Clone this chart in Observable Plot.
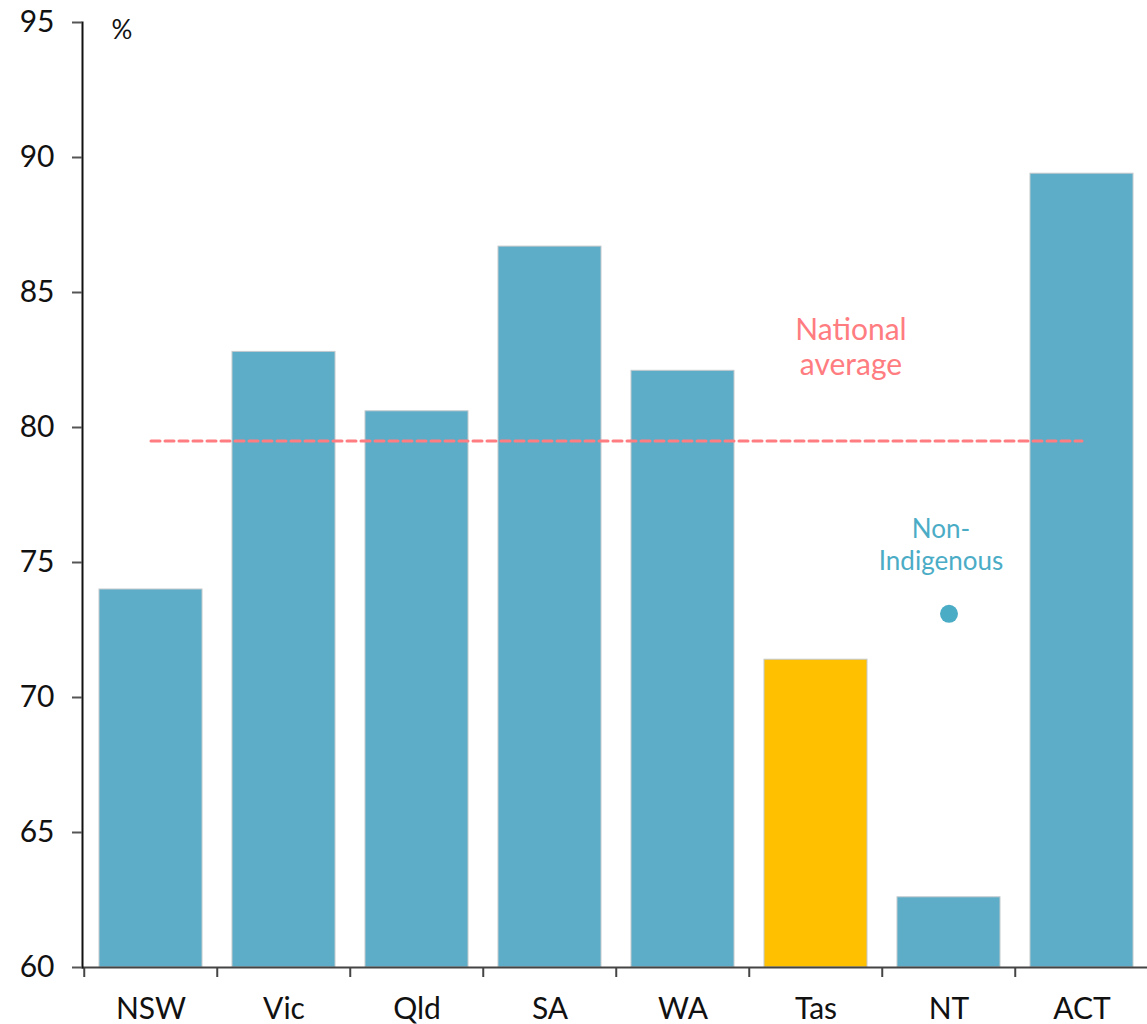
<!DOCTYPE html>
<html>
<head>
<meta charset="utf-8">
<script src="https://cdn.jsdelivr.net/npm/d3@7"></script>
<script src="https://cdn.jsdelivr.net/npm/@observablehq/plot@0.6"></script>
<style>
  html, body { margin: 0; padding: 0; background: #fff; }
  #chart svg { display: block; }
</style>
</head>
<body>
<div id="chart"></div>
<script>
// States and territories, with the share (%) for each
const states = ["NSW", "Vic", "Qld", "SA", "WA", "Tas", "NT", "ACT"];
const values = [74.0, 82.8, 80.6, 86.7, 82.1, 71.4, 62.6, 89.4];
const highlighted = ["Tas"];
const nationalAverage = 79.5;
const nonIndigenousState = "NT";
const nonIndigenousValue = 73.1;
const yTicks = [60, 65, 70, 75, 80, 85, 90, 95];

const FONT = "Lato, 'Open Sans', sans-serif";
const BLUE = "#5DADC8";
const GOLD = "#FFC000";
const PINK = "#FF7C80";
const TEAL = "#4BACC6";

const rows = states.map((s, i) => ({state: s, value: values[i], hi: highlighted.includes(s)}));
const avgLine = [states[0], states[states.length - 1]].map(s => ({state: s, value: nationalAverage}));

const W = 1147, H = 1024, ML = 82, MR = -3;
const step = (W - ML - MR) / states.length;

const chart = Plot.plot({
  width: W,
  height: H,
  marginLeft: ML,
  marginRight: MR,
  marginTop: 22,
  marginBottom: 57,
  style: {fontFamily: FONT, background: "#fff", overflow: "visible"},
  x: {domain: states, paddingInner: 0.226, paddingOuter: 0.113, label: null},
  y: {domain: [60, 95], label: null},
  marks: [
    Plot.barY(rows, {
      x: "state", y1: 60, y2: "value",
      fill: d => d.hi ? GOLD : BLUE,
      stroke: "#c4c9cc", strokeWidth: 1
    }),
    // horizontal axis line and category boundary ticks
    Plot.ruleY([60], {stroke: "#444", strokeWidth: 2}),
    Plot.axisX({
      tickSize: 10, stroke: "#444", strokeWidth: 2, dx: -step / 2,
      tickFormat: () => "", label: null
    }),
    Plot.axisX({
      tickSize: 0, tickPadding: 30, fontSize: 30, fill: "#111", label: null
    }),
    // vertical axis
    Plot.frame({anchor: "left", stroke: "#111", strokeWidth: 2}),
    Plot.axisY({
      ticks: yTicks, tickSize: 10, tickPadding: 18, stroke: "#555", strokeWidth: 2,
      fontSize: 30, fill: "#111", label: null
    }),
    Plot.text(["%"], {
      frameAnchor: "top-left", dx: 29, dy: -2, fontSize: 26, fill: "#111", textAnchor: "start"
    }),
    // national average reference
    Plot.lineY(avgLine, {
      x: "state", y: "value", stroke: PINK, strokeWidth: 3, strokeDasharray: "9,5"
    }),
    Plot.text([{state: "Tas", value: 83.0}], {
      x: "state", y: "value", dx: 35, text: () => "National\naverage",
      fill: PINK, fontSize: 30, lineHeight: 1.15
    }),
    // non-Indigenous comparison point
    Plot.dot([{state: nonIndigenousState, value: nonIndigenousValue}], {
      x: "state", y: "value", r: 9, fill: TEAL
    }),
    Plot.text([{state: nonIndigenousState, value: 75.7}], {
      x: "state", y: "value", dx: -8, text: () => "Non-\nIndigenous",
      fill: TEAL, fontSize: 26, lineHeight: 1.25
    })
  ]
});

document.getElementById("chart").appendChild(chart);
</script>
</body>
</html>
